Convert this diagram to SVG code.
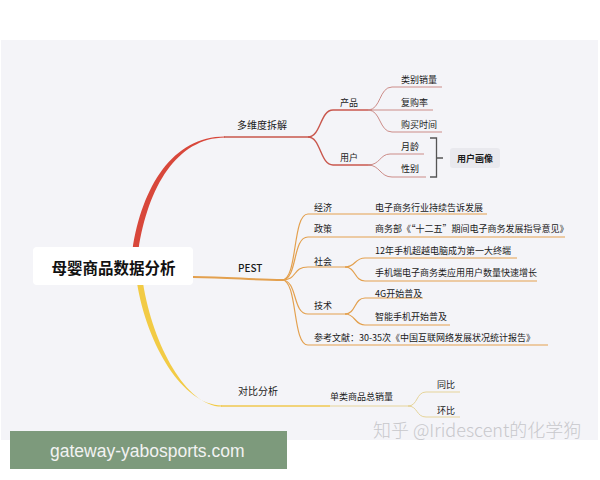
<svg xmlns="http://www.w3.org/2000/svg" width="600" height="480" viewBox="0 0 600 480">
<style>
text{font-family:"Noto Sans CJK SC","Noto Sans",sans-serif;fill:#1a1a1a;dominant-baseline:central}
.s9{font-size:9px}
.s10{font-size:10px}
.root{font-size:15.5px;font-weight:bold;fill:#111}
.red{fill:none;stroke:#c9574d;stroke-width:1.4}
.red2{fill:none;stroke:#cc8c88;stroke-width:1}
.org{fill:none;stroke:#e3a04e;stroke-width:1.2}
.yel{fill:none;stroke:#f0c850;stroke-width:1.6}
.yel2{fill:none;stroke:#e6d49a;stroke-width:1}
</style>
<rect x="1" y="40" width="597" height="400" fill="#f4f4f8"/>
<g id="connectors">
  <path d="M132.5,250 C142,186 173,136.3 225,136.4 L225,137.6 C177,138 148,187 138.5,250 Z" fill="#d8473b"/>
  <path class="red" d="M224,137 L308,137"/>
  <path class="red" d="M308,137 C321,137 320,110 333,110 L372,110"/>
  <path class="red" d="M308,137 C321,137 320,165 333,165 L372,165"/>
  <path class="red2" d="M368,110 C381,110 379,87 392,87 L442,87"/>
  <path class="red2" d="M368,110 L433,110"/>
  <path class="red2" d="M368,110 C381,110 379,132 392,132 L442,132"/>
  <path class="red2" d="M368,165 C380,165 380,154 390,154 L424,154"/>
  <path class="red2" d="M368,165 C380,165 380,177 392,177 L426,177"/>
  <path d="M430,138 L436.5,138 L436.5,177 L430,177 M436.5,158 L443,158" fill="none" stroke="#555" stroke-width="1.3"/>
  <path class="org" style="stroke-width:2" d="M193,277 C230,277 250,280 283,280"/>
  <path class="org" d="M282,280 C298,280 292,214 308,214 L487,214"/>
  <path class="org" d="M282,280 C298,280 292,237 308,237 L565,237"/>
  <path class="org" d="M282,280 C298,280 292,267 308,267 L347,267"/>
  <path class="org" d="M345,267 C356,267 354,258 365,258 L517,258"/>
  <path class="org" d="M345,267 C356,267 354,281 365,281 L537,281"/>
  <path class="org" d="M282,280 C298,280 292,314 308,314 L347,314"/>
  <path class="org" d="M345,314 C356,314 354,298 365,298 L423,298"/>
  <path class="org" d="M345,314 C356,314 354,325 365,325 L450,325"/>
  <path class="org" d="M282,280 C298,280 292,345 308,345 L548,345"/>
  <path d="M137,283 C147,345 183,405.4 222,405.4 L222,406.6 C187,407 153,346 143,283 Z" fill="#f2cb45"/>
  <path class="yel" d="M221,406 L330,406"/>
  <path class="yel2" d="M330,406 L412,406"/>
  <path class="yel2" d="M408,406 C418,406 416,392 426,392 L460,392"/>
  <path class="yel2" d="M408,406 C418,406 416,417 426,417 L460,417"/>
</g>
<g id="root">
  <rect x="33" y="247" width="160" height="38" rx="4" fill="#ffffff"/>
  <text class="root" x="113.5" y="267" text-anchor="middle">母婴商品数据分析</text>
</g>
<g id="n-duowei"><text class="s10" x="237" y="124">多维度拆解</text></g>
<g id="n-chanpin"><text class="s9" x="340" y="102">产品</text></g>
<g id="n-yonghu"><text class="s9" x="340" y="157">用户</text></g>
<g id="n-leibie"><text class="s9" x="401" y="79">类别销量</text></g>
<g id="n-fugou"><text class="s9" x="401" y="102">复购率</text></g>
<g id="n-goumai"><text class="s9" x="401" y="124">购买时间</text></g>
<g id="n-yueling"><text class="s9" x="401" y="146">月龄</text></g>
<g id="n-xingbie"><text class="s9" x="401" y="168">性别</text></g>
<g id="n-huaxiang">
  <rect x="450" y="148" width="50" height="20" rx="3" fill="#e9e9ee"/>
  <text class="s9" x="475" y="158" text-anchor="middle" style="font-weight:bold">用户画像</text>
</g>
<g id="n-pest"><text class="s10" x="238" y="267" style="font-weight:500">PEST</text></g>
<g id="n-jingji"><text class="s9" x="314" y="207">经济</text></g>
<g id="n-jingji1"><text class="s9" x="375" y="207">电子商务行业持续告诉发展</text></g>
<g id="n-zhengce"><text class="s9" x="314" y="228">政策</text></g>
<g id="n-zhengce1"><text class="s9" x="375" y="228">商务部《“十二五”期间电子商务发展指导意见》</text></g>
<g id="n-shehui"><text class="s9" x="314" y="261">社会</text></g>
<g id="n-shehui1"><text class="s9" x="375" y="250">12年手机超越电脑成为第一大终端</text></g>
<g id="n-shehui2"><text class="s9" x="375" y="272">手机端电子商务类应用用户数量快速增长</text></g>
<g id="n-jishu"><text class="s9" x="314" y="305">技术</text></g>
<g id="n-jishu1"><text class="s9" x="375" y="293">4G开始普及</text></g>
<g id="n-jishu2"><text class="s9" x="375" y="316">智能手机开始普及</text></g>
<g id="n-cankao"><text class="s9" x="314" y="337">参考文献：30-35次《中国互联网络发展状况统计报告》</text></g>
<g id="n-duibi"><text class="s10" x="238" y="390">对比分析</text></g>
<g id="n-danlei"><text class="s9" x="330" y="396">单类商品总销量</text></g>
<g id="n-tongbi"><text class="s9" x="437" y="384">同比</text></g>
<g id="n-huanbi"><text class="s9" x="437" y="410">环比</text></g>
<text x="373" y="429" style="font-size:18px;fill:#c8c8cc;font-weight:300">知乎 @Iridescent的化学狗</text>
<rect x="10" y="431" width="277" height="38" fill="#7d9a7c"/>
<text x="50" y="451" style="font-family:'Liberation Sans',Arial,sans-serif;font-size:17.5px;fill:#f2f2f2">gateway-yabosports.com</text>
</svg>
